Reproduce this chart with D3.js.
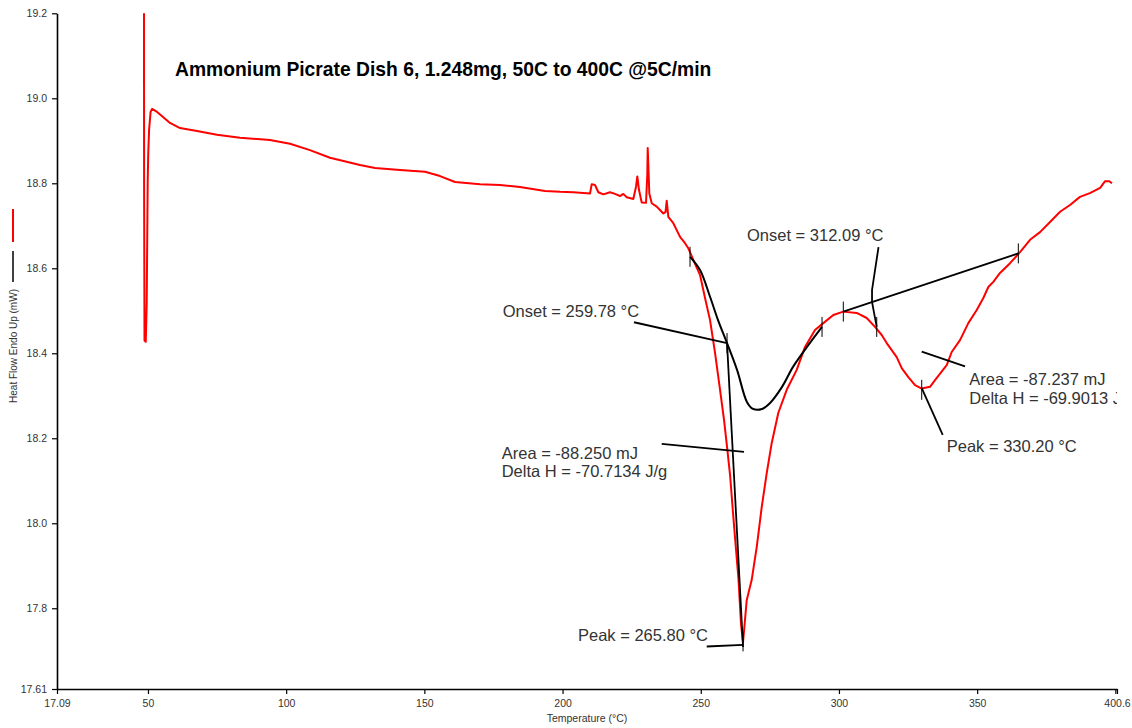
<!DOCTYPE html>
<html>
<head>
<meta charset="utf-8">
<script src="https://cdn.jsdelivr.net/npm/d3@7"></script>
<style>
  body { margin: 0; background: #fff; }
  text { font-family: "Liberation Sans", Arial, sans-serif; }
</style>
</head>
<body>
<script>
// DSC trace (red): temperature in °C and heat flow in mW
const temps = [48.55, 48.6, 48.75, 49.2, 49.55, 49.9, 50.1, 50.4, 50.95, 51.5, 53.3, 55.45, 57.97, 61.6, 67.75,
  74.98, 83.3, 94.15, 101.4, 108.6, 115.85, 126.7, 132.15, 141.2, 150.24, 155.67, 161.1, 170.13, 177.37, 184.6,
  193.65, 199.08, 203.89, 209.94, 210.55, 211.75, 212.94, 214.75, 217.17, 218.98, 220.79, 221.98, 223.22, 225.6,
  226.58, 227.05, 227.66, 228.64, 230.19, 230.66, 230.81, 231.1, 231.39, 232.26, 234.07, 235.26, 236.45, 237.25,
  237.69, 238.27, 240.08, 242.5, 244.31, 245.5, 247.31, 249.74, 251.55, 253.36, 255.17, 256.98, 258.43, 259.51,
  260.6, 261.68, 262.77, 263.67, 264.58, 265.3, 265.84, 266.63, 268.44, 270.25, 272.06, 273.87, 275.68, 278.07,
  281.1, 284.72, 287.72, 291.34, 294.35, 297.97, 301.58, 306.43, 310.05, 313.05, 315.47, 317.28, 320.9, 322.71,
  325.11, 327.53, 329.95, 332.95, 334.76, 338.99, 340.8, 343.8, 346.81, 349.85, 352.24, 354.05, 355.86, 358.28,
  361.9, 365.52, 369.14, 372.76, 376.38, 380.0, 383.6, 387.2, 390.8, 394.5, 396.3, 397.7, 398.8];
const heatFlow = [19.3, 18.8, 18.43, 18.427, 18.52, 18.8, 18.87, 18.925, 18.968, 18.975, 18.968, 18.956, 18.942,
  18.93, 18.923, 18.914, 18.907, 18.902, 18.893, 18.878, 18.86, 18.843, 18.836, 18.831, 18.827, 18.817, 18.803,
  18.798, 18.796, 18.791, 18.782, 18.78, 18.779, 18.776, 18.798, 18.796, 18.779, 18.774, 18.779, 18.775, 18.77,
  18.775, 18.767, 18.763, 18.792, 18.816, 18.784, 18.755, 18.754, 18.82, 18.883, 18.831, 18.776, 18.753, 18.745,
  18.737, 18.729, 18.732, 18.759, 18.721, 18.706, 18.674, 18.659, 18.647, 18.62, 18.584, 18.53, 18.478, 18.401,
  18.314, 18.243, 18.18, 18.114, 18.024, 17.937, 17.867, 17.761, 17.721, 17.76, 17.819, 17.867, 17.944, 18.038,
  18.118, 18.189, 18.26, 18.314, 18.361, 18.415, 18.455, 18.471, 18.49, 18.498, 18.495, 18.483, 18.462, 18.443,
  18.424, 18.391, 18.365, 18.344, 18.325, 18.317, 18.321, 18.337, 18.372, 18.403, 18.431, 18.471, 18.502, 18.53,
  18.556, 18.568, 18.589, 18.612, 18.638, 18.667, 18.685, 18.709, 18.733, 18.749, 18.768, 18.777, 18.789, 18.805,
  18.805, 18.8];

// Partial-area baseline of the first peak (black)
const baseTemps = [246.12, 249.74, 253.36, 256.25, 259.51, 263.13, 266.75, 268.92, 272.17, 275.07, 279.41, 283.39, 288.45, 293.88];
const baseFlow = [18.627, 18.596, 18.533, 18.478, 18.424, 18.361, 18.285, 18.269, 18.269, 18.283, 18.321, 18.368, 18.415, 18.462];

// Straight analysis lines (black), [temp, heat flow] pairs
const analysisLines = [
  [[225.85, 18.473], [259.51, 18.424]],                 // onset 1 leader
  [[259.51, 18.424], [265.3, 17.709]],                  // onset 1 tangent
  [[235.88, 18.187], [265.65, 18.168]],                 // area 1 leader
  [[252.16, 17.710], [265.3, 17.714]],                  // peak 1 leader
  [[301.58, 18.498], [364.9, 18.635]],                  // baseline 2
  [[314.32, 18.65], [311.97, 18.549], [311.97, 18.521], [312.7, 18.495], [313.67, 18.462]], // onset 2
  [[329.95, 18.404], [345.63, 18.369]],                 // area 2 leader
  [[329.95, 18.318], [337.54, 18.208]]                  // peak 2 leader
];

// Event markers (short vertical ticks)
const markerTemps = [246.12, 259.51, 265.3, 293.88, 301.58, 313.67, 329.95, 364.9];
const markerFlow = [18.627, 18.424, 17.722, 18.462, 18.498, 18.462, 18.314, 18.635];

// Annotation texts with their anchor (temp, heat flow)
const labelText = ["Onset = 259.78 °C", "Onset = 312.09 °C", "Area = -88.250 mJ", "Delta H = -70.7134 J/g",
  "Peak = 265.80 °C", "Area = -87.237 mJ", "Delta H = -69.9013 J/g", "Peak = 330.20 °C"];
const labelTemps = [178.35, 266.74, 177.99, 177.99, 205.59, 347.17, 347.17, 339.0];
const labelFlow = [18.486, 18.664, 18.151, 18.109, 17.723, 18.325, 18.281, 18.168];

const xTicks = [17.09, 50, 100, 150, 200, 250, 300, 350, 400, 400.6];
const yTicks = [17.61, 17.8, 18.0, 18.2, 18.4, 18.6, 18.8, 19.0, 19.2];

const W = 1132, H = 728;
const svg = d3.select("body").append("svg").attr("width", W).attr("height", H);

const x = d3.scaleLinear().domain([17.09, 400.6]).range([57, 1117]);
const y = d3.scaleLinear().domain([17.61, 19.2]).range([689, 13.3]);

svg.append("clipPath").attr("id", "plot")
  .append("rect")
  .attr("x", x.range()[0]).attr("y", y.range()[1])
  .attr("width", x.range()[1] - x.range()[0])
  .attr("height", y.range()[0] - y.range()[1]);

// Axes
const yAxis = svg.append("g")
  .attr("transform", `translate(${x.range()[0]},0)`)
  .call(d3.axisLeft(y).tickValues(yTicks).tickSize(5).tickSizeOuter(0).tickPadding(5)
    .tickFormat(d => d === 17.61 ? "17.61" : d.toFixed(1)));

const xAxis = svg.append("g")
  .attr("transform", `translate(0,${y.range()[0]})`)
  .call(d3.axisBottom(x).tickValues(xTicks).tickSize(5).tickSizeOuter(0).tickPadding(6)
    .tickFormat(d => d === 400 ? "" : (d === 17.09 ? "17.09" : d === 400.6 ? "400.6" : d3.format("d")(d))));

[xAxis, yAxis].forEach(a => {
  a.select(".domain").attr("stroke", "#000").attr("stroke-width", 1.6);
  a.selectAll(".tick line").attr("stroke", "#000").attr("stroke-width", 1.2);
  a.selectAll(".tick text").attr("fill", "#333").style("font-size", "10.5px")
    .style("font-family", '"Liberation Sans", Arial, sans-serif');
});

// Axis titles
svg.append("text")
  .attr("x", (x.range()[0] + x.range()[1]) / 2).attr("y", 722)
  .attr("text-anchor", "middle").attr("fill", "#333")
  .style("font-size", "10.5px")
  .text("Temperature (°C)");

svg.append("text")
  .attr("transform", "translate(13,346) rotate(-90)")
  .attr("dy", "0.35em")
  .attr("text-anchor", "middle").attr("fill", "#333")
  .style("font-size", "10px")
  .text("Heat Flow Endo Up (mW)");

// little legend swatches beside the y title
svg.append("line").attr("x1", 13).attr("x2", 13).attr("y1", 209).attr("y2", 242)
  .attr("stroke", "red").attr("stroke-width", 2);
svg.append("line").attr("x1", 13).attr("x2", 13).attr("y1", 251).attr("y2", 282)
  .attr("stroke", "#000").attr("stroke-width", 1.5);

// Title
svg.append("text")
  .attr("x", 175).attr("y", 76)
  .attr("fill", "#000")
  .style("font-size", "19.3px").style("font-weight", "bold")
  .text("Ammonium Picrate Dish 6, 1.248mg, 50C to 400C @5C/min");

const plot = svg.append("g").attr("clip-path", "url(#plot)");

// Red DSC trace
const line = d3.line()
  .x(i => x(temps[i]))
  .y(i => y(heatFlow[i]));

plot.append("path")
  .attr("d", line(d3.range(temps.length)))
  .attr("fill", "none")
  .attr("stroke", "red")
  .attr("stroke-width", 2)
  .attr("stroke-linejoin", "round");

// Black baseline
const baseLine = d3.line()
  .curve(d3.curveCatmullRom)
  .x(i => x(baseTemps[i]))
  .y(i => y(baseFlow[i]));

plot.append("path")
  .attr("d", baseLine(d3.range(baseTemps.length)))
  .attr("fill", "none")
  .attr("stroke", "#000")
  .attr("stroke-width", 2);

// Analysis lines
const segLine = d3.line().x(d => x(d[0])).y(d => y(d[1]));
plot.selectAll(".seg")
  .data(analysisLines)
  .enter().append("path")
  .attr("class", "seg")
  .attr("d", segLine)
  .attr("fill", "none")
  .attr("stroke", "#000")
  .attr("stroke-width", 1.8);

// Markers
plot.selectAll(".marker")
  .data(d3.range(markerTemps.length))
  .enter().append("line")
  .attr("class", "marker")
  .attr("x1", i => x(markerTemps[i])).attr("x2", i => x(markerTemps[i]))
  .attr("y1", i => y(markerFlow[i]) - 10).attr("y2", i => y(markerFlow[i]) + 10)
  .attr("stroke", "#000")
  .attr("stroke-width", 1);

// Annotation labels
plot.selectAll(".label")
  .data(d3.range(labelText.length))
  .enter().append("text")
  .attr("class", "label")
  .attr("x", i => x(labelTemps[i]))
  .attr("y", i => y(labelFlow[i]))
  .attr("fill", "#333")
  .style("font-size", "16.5px")
  .text(i => labelText[i]);
</script>
</body>
</html>
